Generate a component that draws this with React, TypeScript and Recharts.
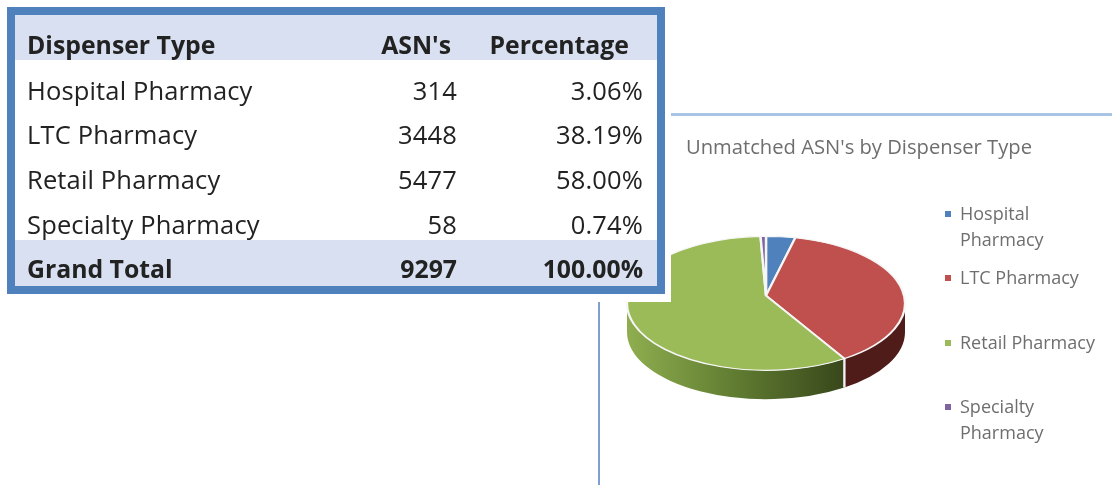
import { PieChart, Pie, Cell } from 'recharts'

const DISPENSERS = ['Hospital Pharmacy', 'LTC Pharmacy', 'Retail Pharmacy', 'Specialty Pharmacy']
const ASNS = [314, 3448, 5477, 58]
const PERCENTAGES = ['3.06%', '38.19%', '58.00%', '0.74%']
const TOTAL_ASNS = '9297'
const TOTAL_PERCENTAGE = '100.00%'

const TOP_COLORS = ['#4f81bd', '#c0504d', '#9bbb59', '#8064a2']
const RIM_COLORS = ['#2a4566', '#4f1c1a', 'url(#rimGreen)', '#44355a']

const LEGEND_LINES = [['Hospital', 'Pharmacy'], ['LTC Pharmacy'], ['Retail Pharmacy'], ['Specialty', 'Pharmacy']]
const LEGEND_TOPS = [200, 264, 329, 393]

const pieData = DISPENSERS.map((name, i) => ({ name, value: ASNS[i] }))

const FONT = '"Open Sans", sans-serif'
const PIE_SCALE = 0.482
const APEX_LIFT = 16
const RIM_DEPTH = 60

function arcEnds(cx: number, cy: number, r: number, startAngle: number, endAngle: number) {
  const rad = Math.PI / 180
  return {
    x1: cx + r * Math.cos(-startAngle * rad),
    y1: cy + r * Math.sin(-startAngle * rad),
    x2: cx + r * Math.cos(-endAngle * rad),
    y2: cy + r * Math.sin(-endAngle * rad),
    large: Math.abs(endAngle - startAngle) > 180 ? 1 : 0,
  }
}

function TopSlice(props: any) {
  const { cx, cy, outerRadius: r, startAngle, endAngle, fill } = props
  const { x1, y1, x2, y2, large } = arcEnds(cx, cy, r, startAngle, endAngle)
  return (
    <path
      d={`M${cx},${cy - APEX_LIFT} L${x1},${y1} A${r},${r} 0 ${large} 1 ${x2},${y2} Z`}
      fill={fill}
      stroke="#f6f6f6"
      strokeWidth={2.4}
    />
  )
}

// side wall: only the front half of the slice's arc (0 to -180 degrees) swept straight down
function RimSlice(props: any) {
  const { cx, cy, outerRadius: r, startAngle, endAngle, fill } = props
  const from = Math.min(startAngle, 0)
  const to = Math.max(endAngle, -180)
  if (from <= to) return <g />
  const { x1, y1, x2, y2 } = arcEnds(cx, cy, r, from, to)
  const d = RIM_DEPTH
  return (
    <g>
      <path
        d={`M${x1},${y1} A${r},${r} 0 0 1 ${x2},${y2} L${x2},${y2 + d} A${r},${r} 0 0 0 ${x1},${y1 + d} Z`}
        fill={fill}
      />
      {from === startAngle && <line x1={x1} y1={y1} x2={x1} y2={y1 + d} stroke="#f0f0f0" strokeWidth={2.4} />}
    </g>
  )
}

function Row({ cells, center, bold, right1 = 457, right2 = 643 }: { cells: string[]; center: number; bold?: boolean; right1?: number; right2?: number }) {
  const cell = { position: 'absolute', top: center - 22, lineHeight: '44px', whiteSpace: 'nowrap' } as const
  const style = { fontWeight: bold ? 700 : 400, fontSize: bold ? 24.8 : 25.5, letterSpacing: bold ? 0 : 0.15 }
  return (
    <div style={style}>
      <span style={{ ...cell, left: 27 }}>{cells[0]}</span>
      <span style={{ ...cell, right: 1112 - right1 }}>{cells[1]}</span>
      <span style={{ ...cell, right: 1112 - right2 }}>{cells[2]}</span>
    </div>
  )
}

export default function App() {
  return (
    <div
      style={{
        position: 'absolute',
        left: 0,
        top: 0,
        width: 1112,
        height: 485,
        overflow: 'hidden',
        background: '#fff',
        fontFamily: FONT,
        filter: 'blur(0.7px)',
      }}
    >
      <div style={{ position: 'absolute', left: 671, top: 113, width: 441, height: 3, background: '#a9c4e4' }} />
      <div style={{ position: 'absolute', left: 598, top: 302, width: 2, height: 183, background: '#7f9fd0' }} />

      <div
        style={{
          position: 'absolute',
          left: 686,
          top: 133,
          fontSize: 20.2,
          color: '#6e6e6e',
          lineHeight: '26px',
          whiteSpace: 'nowrap',
        }}
      >
        Unmatched ASN's by Dispenser Type
      </div>

      <div
        style={{
          position: 'absolute',
          left: 616,
          top: 231,
          width: 300,
          height: 400,
          transform: `scaleY(${PIE_SCALE})`,
          transformOrigin: 'top left',
        }}
      >
        <PieChart width={300} height={400} margin={{ top: 0, right: 0, bottom: 0, left: 0 }}>
          <defs>
            <linearGradient id="rimGreen" x1="0" y1="0" x2="1" y2="0">
              <stop offset="0" stopColor="#8fae4f" />
              <stop offset="0.5" stopColor="#607c31" />
              <stop offset="1" stopColor="#38471b" />
            </linearGradient>
          </defs>
          <Pie
            data={pieData}
            dataKey="value"
            nameKey="name"
            cx={150}
            cy={150}
            outerRadius={139}
            startAngle={90}
            endAngle={-270}
            shape={RimSlice}
            isAnimationActive={false}
          >
            {pieData.map((entry, i) => (
              <Cell key={entry.name} fill={RIM_COLORS[i]} />
            ))}
          </Pie>
          <Pie
            data={pieData}
            dataKey="value"
            nameKey="name"
            cx={150}
            cy={150}
            outerRadius={139}
            startAngle={90}
            endAngle={-270}
            shape={TopSlice}
            isAnimationActive={false}
          >
            {pieData.map((entry, i) => (
              <Cell key={entry.name} fill={TOP_COLORS[i]} />
            ))}
          </Pie>
        </PieChart>
      </div>

      {LEGEND_LINES.map((lines, i) => (
        <div key={lines[0]} style={{ position: 'absolute', left: 945, top: LEGEND_TOPS[i] }}>
          <div
            style={{
              position: 'absolute',
              left: 0,
              top: 11,
              width: 6,
              height: 6,
              background: TOP_COLORS[i],
            }}
          />
          <div
            style={{
              position: 'absolute',
              left: 15,
              fontSize: 18,
              lineHeight: '26px',
              color: '#6e6e6e',
              whiteSpace: 'nowrap',
            }}
          >
            {lines.map((line) => (
              <div key={line}>{line}</div>
            ))}
          </div>
        </div>
      ))}

      <div style={{ position: 'absolute', left: 0, top: 0, width: 671, height: 302, background: '#fff' }} />
      <div
        style={{
          position: 'absolute',
          left: 7,
          top: 7,
          width: 658,
          height: 287,
          boxSizing: 'border-box',
          border: '8px solid #4f81bd',
          background: '#fff',
        }}
      />
      <div style={{ position: 'absolute', left: 15, top: 15, width: 642, height: 45, background: '#d9e0f1' }} />
      <div style={{ position: 'absolute', left: 15, top: 240, width: 642, height: 46, background: '#d9e0f1' }} />
      <div style={{ position: 'absolute', left: 0, top: 0, width: 1112, height: 485, color: '#222' }}>
        <Row cells={['Dispenser Type', "ASN's", 'Percentage']} center={43.5} bold right1={451} right2={629} />
        {DISPENSERS.map((name, i) => (
          <Row key={name} cells={[name, String(ASNS[i]), PERCENTAGES[i]]} center={89.5 + i * 44.7} />
        ))}
        <Row cells={['Grand Total', TOTAL_ASNS, TOTAL_PERCENTAGE]} center={267.5} bold />
      </div>
    </div>
  )
}
